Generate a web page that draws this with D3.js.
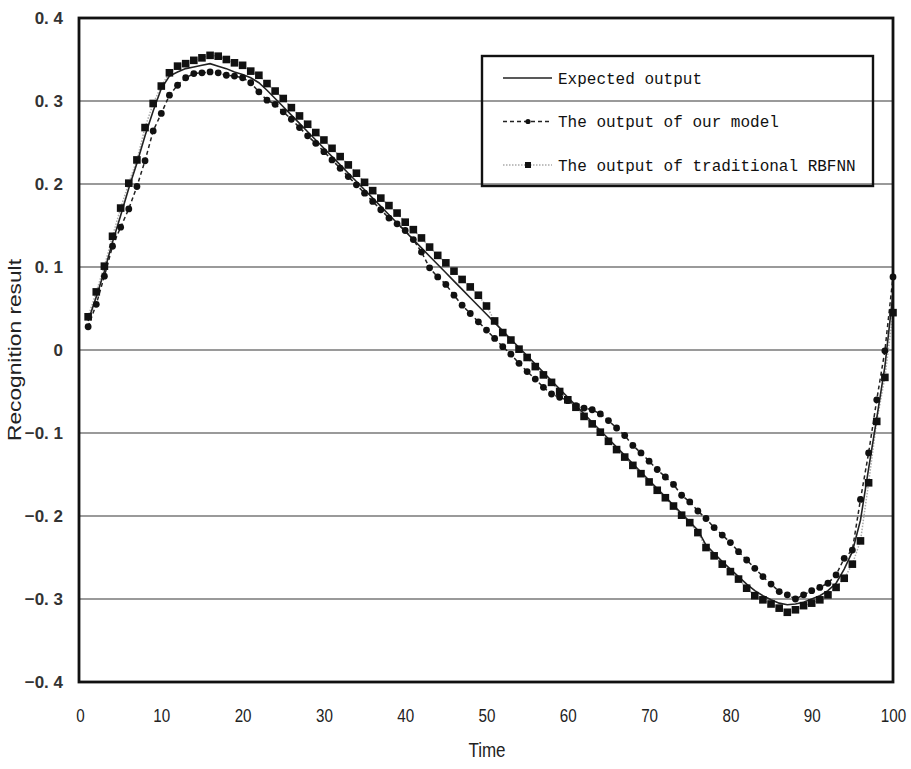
<!DOCTYPE html>
<html>
<head>
<meta charset="utf-8">
<script src="https://cdn.jsdelivr.net/npm/d3@7"></script>
<style>
  html, body { margin: 0; padding: 0; background: #fff; }
  svg { display: block; }
</style>
</head>
<body>
<svg id="chart"></svg>
<script>
// time steps 1..100
const time = d3.range(1, 101);

const expected = [
  0.035, 0.064, 0.095, 0.130, 0.162, 0.195, 0.225, 0.258, 0.288, 0.315,
  0.330, 0.335, 0.339, 0.341, 0.343, 0.345, 0.342, 0.339, 0.335, 0.332,
  0.328, 0.322, 0.313, 0.303, 0.293, 0.283, 0.273, 0.263, 0.253, 0.243,
  0.233, 0.223, 0.213, 0.203, 0.193, 0.183, 0.173, 0.163, 0.153, 0.143,
  0.133, 0.123, 0.113, 0.103, 0.093, 0.083, 0.073, 0.063, 0.053, 0.043,
  0.033, 0.023, 0.013, 0.003, -0.007, -0.017, -0.027, -0.037, -0.047, -0.057,
  -0.067, -0.077, -0.087, -0.097, -0.107, -0.117, -0.127, -0.137, -0.147, -0.157,
  -0.167, -0.177, -0.187, -0.197, -0.207, -0.217, -0.235, -0.245, -0.255, -0.264,
  -0.273, -0.282, -0.290, -0.296, -0.301, -0.305, -0.307, -0.306, -0.304, -0.300,
  -0.296, -0.290, -0.281, -0.264, -0.243, -0.205, -0.143, -0.082, -0.020, 0.068
];

const ourModel = [
  0.028, 0.055, 0.089, 0.125, 0.148, 0.170, 0.197, 0.228, 0.264, 0.285,
  0.307, 0.319, 0.328, 0.333, 0.334, 0.335, 0.334, 0.331, 0.330, 0.328,
  0.322, 0.311, 0.301, 0.296, 0.287, 0.278, 0.268, 0.258, 0.249, 0.239,
  0.229, 0.219, 0.209, 0.199, 0.189, 0.179, 0.169, 0.159, 0.152, 0.144,
  0.133, 0.118, 0.099, 0.088, 0.079, 0.066, 0.054, 0.044, 0.034, 0.024,
  0.014, 0.004, -0.005, -0.016, -0.026, -0.035, -0.045, -0.053, -0.057, -0.061,
  -0.067, -0.070, -0.072, -0.077, -0.085, -0.094, -0.103, -0.115, -0.124, -0.134,
  -0.144, -0.153, -0.162, -0.175, -0.183, -0.194, -0.203, -0.214, -0.223, -0.232,
  -0.243, -0.253, -0.263, -0.273, -0.282, -0.291, -0.295, -0.300, -0.295, -0.290,
  -0.286, -0.281, -0.271, -0.251, -0.241, -0.180, -0.124, -0.060, -0.001, 0.088
];

const rbfnn = [
  0.040, 0.070, 0.101, 0.137, 0.171, 0.201, 0.229, 0.268, 0.297, 0.318,
  0.334, 0.342, 0.345, 0.349, 0.352, 0.355, 0.354, 0.350, 0.346, 0.343,
  0.336, 0.331, 0.321, 0.312, 0.303, 0.292, 0.282, 0.272, 0.262, 0.253,
  0.243, 0.233, 0.223, 0.213, 0.202, 0.192, 0.183, 0.174, 0.165, 0.154,
  0.145, 0.135, 0.124, 0.114, 0.105, 0.095, 0.085, 0.076, 0.066, 0.053,
  0.035, 0.021, 0.012, 0.001, -0.009, -0.020, -0.030, -0.039, -0.050, -0.060,
  -0.069, -0.080, -0.089, -0.099, -0.110, -0.120, -0.129, -0.139, -0.149, -0.159,
  -0.169, -0.178, -0.188, -0.199, -0.208, -0.220, -0.238, -0.248, -0.258, -0.267,
  -0.276, -0.287, -0.296, -0.301, -0.306, -0.311, -0.316, -0.313, -0.308, -0.305,
  -0.301, -0.295, -0.286, -0.275, -0.258, -0.230, -0.160, -0.086, -0.033, 0.045
];

const xTicks = [0, 10, 20, 30, 40, 50, 60, 70, 80, 90, 100];
const yTicks = [-0.4, -0.3, -0.2, -0.1, 0, 0.1, 0.2, 0.3, 0.4];
const yTickLabels = ['\u22120.\u00a04', '\u22120.\u00a03', '\u22120.\u00a02', '\u22120.\u00a01', '0',
                     '0.\u00a01', '0.\u00a02', '0.\u00a03', '0.\u00a04'];
const legendLabels = ['Expected output', 'The output of our model', 'The output of traditional RBFNN'];

const width = 911, height = 769;
const plot = { left: 79, right: 893, top: 18, bottom: 682 };

const svg = d3.select('#chart')
  .attr('width', width)
  .attr('height', height);

const x = d3.scaleLinear().domain([0, 100]).range([80, 893]);
const y = d3.scaleLinear().domain([-0.4, 0.4]).range([plot.bottom, plot.top]);

// gridlines
svg.append('g')
  .selectAll('line')
  .data(yTicks.filter(d => Math.abs(d) < 0.35))
  .enter()
  .append('line')
  .attr('x1', plot.left)
  .attr('x2', plot.right)
  .attr('y1', d => y(d))
  .attr('y2', d => y(d))
  .attr('stroke', '#9a9a9a')
  .attr('stroke-width', 2);

// axes (labels only)
const yAxis = d3.axisLeft(y)
  .tickValues(yTicks)
  .tickSize(0)
  .tickPadding(16)
  .tickFormat((d, i) => yTickLabels[i]);

const gy = svg.append('g')
  .attr('transform', `translate(${plot.left},0)`)
  .call(yAxis);
gy.select('.domain').remove();
gy.selectAll('text')
  .attr('font-family', '"Liberation Sans", Arial, sans-serif')
  .attr('font-size', 17)
  .attr('font-weight', 'bold')
  .attr('fill', '#333');

const xAxis = d3.axisBottom(x)
  .tickValues(xTicks)
  .tickSize(0)
  .tickPadding(27)
  .tickFormat(d3.format('d'));

const gx = svg.append('g')
  .attr('transform', `translate(0,${plot.bottom})`)
  .call(xAxis);
gx.select('.domain').remove();
gx.selectAll('text')
  .attr('font-family', '"Liberation Sans", Arial, sans-serif')
  .attr('font-size', 19)
  .attr('transform', 'scale(0.8,1)')
  .attr('fill', '#222');

svg.append('text')
  .attr('transform', 'translate(487,757) scale(0.85,1)')
  .attr('text-anchor', 'middle')
  .attr('font-family', '"Liberation Sans", Arial, sans-serif')
  .attr('font-size', 20)
  .attr('fill', '#222')
  .text('Time');

svg.append('text')
  .attr('transform', 'translate(21,350) rotate(-90)')
  .attr('text-anchor', 'middle')
  .attr('font-family', '"Liberation Sans", Arial, sans-serif')
  .attr('font-size', 18)
  .attr('textLength', 182)
  .attr('lengthAdjust', 'spacingAndGlyphs')
  .attr('fill', '#222')
  .text('Recognition result');

// series
const line = d3.line()
  .x((d, i) => x(time[i]))
  .y(d => y(d));

svg.append('path')
  .datum(rbfnn)
  .attr('d', line)
  .attr('fill', 'none')
  .attr('stroke', '#aaa')
  .attr('stroke-width', 1.5)
  .attr('stroke-dasharray', '1.5,1.5');

svg.append('path')
  .datum(expected)
  .attr('d', line)
  .attr('fill', 'none')
  .attr('stroke', '#222')
  .attr('stroke-width', 1.6);

svg.append('path')
  .datum(ourModel)
  .attr('d', line)
  .attr('fill', 'none')
  .attr('stroke', '#222')
  .attr('stroke-width', 1.5)
  .attr('stroke-dasharray', '4,3');

svg.append('g')
  .selectAll('rect')
  .data(rbfnn)
  .enter()
  .append('rect')
  .attr('x', (d, i) => x(time[i]) - 3.8)
  .attr('y', d => y(d) - 3.8)
  .attr('width', 7.6)
  .attr('height', 7.6)
  .attr('fill', '#111');

svg.append('g')
  .selectAll('circle')
  .data(ourModel)
  .enter()
  .append('circle')
  .attr('cx', (d, i) => x(time[i]))
  .attr('cy', d => y(d))
  .attr('r', 3.4)
  .attr('fill', '#111');

// frame
svg.append('rect')
  .attr('x', plot.left)
  .attr('y', plot.top)
  .attr('width', plot.right - plot.left)
  .attr('height', plot.bottom - plot.top)
  .attr('fill', 'none')
  .attr('stroke', '#111')
  .attr('stroke-width', 2.8);

// legend
const legend = svg.append('g');
legend.append('rect')
  .attr('x', 482)
  .attr('y', 56)
  .attr('width', 391)
  .attr('height', 130)
  .attr('fill', 'none')
  .attr('stroke', '#111')
  .attr('stroke-width', 2.4);

const rows = legend.selectAll('g.row')
  .data(legendLabels)
  .enter()
  .append('g')
  .attr('class', 'row')
  .attr('transform', (d, i) => `translate(0,${78 + i * 43.5})`);

rows.append('line')
  .attr('x1', 503)
  .attr('x2', 552)
  .attr('y1', 0)
  .attr('y2', 0)
  .attr('stroke', (d, i) => i === 2 ? '#aaa' : '#222')
  .attr('stroke-width', 1.5)
  .attr('stroke-dasharray', (d, i) => i === 0 ? null : (i === 1 ? '4,3' : '1.5,1.5'));

rows.filter((d, i) => i === 1)
  .append('circle')
  .attr('cx', 528)
  .attr('cy', 0)
  .attr('r', 2.6)
  .attr('fill', '#111');

rows.filter((d, i) => i === 2)
  .append('rect')
  .attr('x', 525)
  .attr('y', -3)
  .attr('width', 6)
  .attr('height', 6)
  .attr('fill', '#111');

rows.append('text')
  .attr('x', 558)
  .attr('y', 0)
  .attr('dy', '0.35em')
  .attr('font-family', '"Liberation Mono", "DejaVu Sans Mono", monospace')
  .attr('font-size', 16)
  .attr('fill', '#111')
  .text(d => d);
</script>
</body>
</html>
